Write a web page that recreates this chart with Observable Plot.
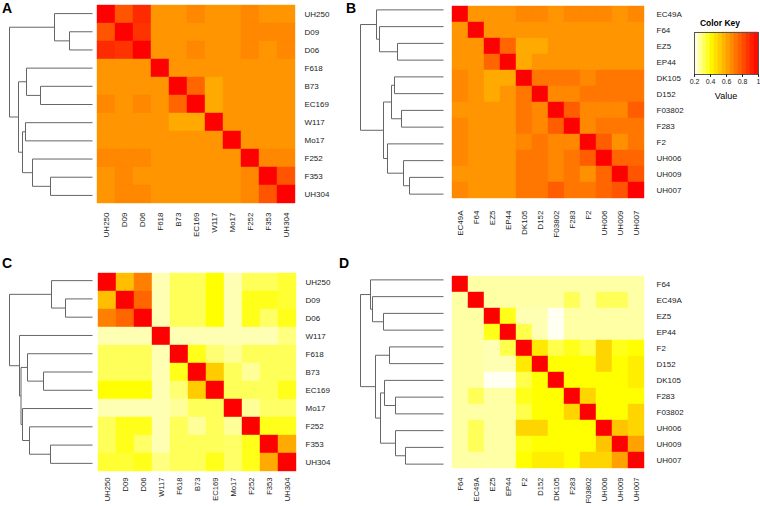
<!DOCTYPE html>
<html><head><meta charset="utf-8">
<script src="https://cdn.jsdelivr.net/npm/d3@7"></script>
<script src="https://cdn.jsdelivr.net/npm/@observablehq/plot@0.6"></script>
<style>
body{margin:0;background:#fff;}
#fig{position:relative;width:760px;height:506px;overflow:hidden;font-family:"Liberation Sans",Arial,sans-serif;background:#fff;}
.p{position:absolute;}
.lab{position:absolute;font-weight:bold;font-size:14px;line-height:1;color:#000;}
</style></head><body><div id="fig"></div>
<script>
// ---------- data ----------
const namesA = ["UH250","D09","D06","F618","B73","EC169","W117","Mo17","F252","F353","UH304"];
const upperA = [
  [0.80,0.90,0.65,0.65,0.68,0.65,0.65,0.68,0.65,0.65],
  [0.88,0.65,0.65,0.65,0.65,0.65,0.68,0.68,0.68],
  [0.65,0.65,0.68,0.65,0.65,0.68,0.65,0.68],
  [0.65,0.65,0.65,0.65,0.65,0.65,0.65],
  [0.76,0.60,0.65,0.65,0.65,0.65],
  [0.60,0.65,0.65,0.65,0.65],
  [0.65,0.65,0.65,0.65],
  [0.65,0.65,0.65],
  [0.68,0.68],
  [0.80],
  []
];
const treeA = [83, [38, "UH250", [23, "D09", "D06"]], [74, [66, "F618", [52, "B73", "EC169"]], [70, [67, "W117", "Mo17"], [60, "F252", [42, "F353", "UH304"]]]]];

const namesB = ["EC49A","F64","EZ5","EP44","DK105","D152","F03802","F283","F2","UH006","UH009","UH007"];
const upperB = [
  [0.65,0.65,0.65,0.68,0.68,0.65,0.68,0.68,0.68,0.65,0.68],
  [0.65,0.65,0.65,0.65,0.65,0.65,0.65,0.65,0.65,0.65],
  [0.76,0.60,0.60,0.65,0.65,0.65,0.65,0.65,0.65],
  [0.60,0.65,0.65,0.65,0.65,0.65,0.65,0.65],
  [0.72,0.72,0.72,0.68,0.72,0.72,0.72],
  [0.68,0.68,0.72,0.72,0.72,0.72],
  [0.78,0.68,0.68,0.68,0.78],
  [0.68,0.72,0.72,0.72],
  [0.78,0.66,0.72],
  [0.76,0.76],
  [0.80],
  []
];
const treeB = [83, [67, "EC49A", [64, "F64", [46, "EZ5", "EP44"]]], [60, [52, [49, "DK105", "D152"], [42, "F03802", "F283"]], [56, "F2", [40, "UH006", [34, "UH009", "UH007"]]]]];

const namesC = ["UH250","D09","D06","W117","F618","B73","EC169","Mo17","F252","F353","UH304"];
const upperC = [
  [0.55,0.70,0.26,0.33,0.33,0.40,0.26,0.33,0.33,0.36],
  [0.76,0.26,0.33,0.33,0.40,0.26,0.38,0.38,0.36],
  [0.26,0.33,0.33,0.40,0.26,0.38,0.32,0.38],
  [0.26,0.26,0.26,0.26,0.26,0.26,0.30],
  [0.38,0.31,0.28,0.33,0.33,0.33],
  [0.52,0.33,0.28,0.33,0.33],
  [0.33,0.33,0.33,0.38],
  [0.28,0.32,0.32],
  [0.38,0.38],
  [0.60],
  []
];
const treeC = [83, [41, "UH250", [27, "D09", "D06"]], [73, "W117", [71.5, [65, "F618", [49, "B73", "EC169"]], [70, "Mo17", [63, "F252", [42, "F353", "UH304"]]]]]];

const namesD = ["F64","EC49A","EZ5","EP44","F2","D152","DK105","F283","F03802","UH006","UH009","UH007"];
const upperD = [
  [0.27,0.27,0.27,0.27,0.27,0.27,0.27,0.27,0.27,0.27,0.27],
  [0.27,0.27,0.27,0.27,0.27,0.33,0.27,0.33,0.33,0.27],
  [0.38,0.26,0.26,0.21,0.27,0.27,0.27,0.27,0.27],
  [0.34,0.26,0.21,0.27,0.27,0.27,0.27,0.27],
  [0.45,0.34,0.38,0.34,0.50,0.38,0.40],
  [0.40,0.40,0.40,0.50,0.40,0.44],
  [0.40,0.40,0.40,0.40,0.44],
  [0.50,0.40,0.40,0.40],
  [0.40,0.40,0.50],
  [0.54,0.50],
  [0.62],
  []
];
const treeD = [83, [73, "F64", [71, "EC49A", [60, "EZ5", "EP44"]]], [68, [54, "F2", "D152"], [63, [59, "DK105", [48, "F283", "F03802"]], [48, "UH006", [38, "UH009", "UH007"]]]]];

const keyStops = [0.2,0.25,0.3,0.35,0.4,0.45,0.5,0.55,0.6,0.65,0.7,0.75,0.8,0.85,0.9,0.95,1.0];
const keyTicks = [0.2,0.4,0.6,0.8,1];

// ---------- helpers ----------
function heat(t){ // reversed heat.colors
  const u = 1 - Math.max(0, Math.min(1, t));
  if (u < 0.75) return `rgb(255,${Math.round(255*u/0.75)},0)`;
  const s = Math.max(0, 1 - (u - 0.75)/0.25);
  return `rgb(255,255,${Math.round(255*(1-s))})`;
}
const colorOpts = {type:"linear", domain:[0.2,1], interpolate: heat};

function cells(names, upper){
  const out=[]; const n=names.length;
  for(let i=0;i<n;i++) for(let j=0;j<n;j++){
    let v;
    if(i===j) v=1; else if(j>i) v=upper[i][j-i-1]; else v=upper[j][i-j-1];
    out.push({row:names[i], col:names[j], value:v});
  }
  return out;
}
function dendro(tree, names){
  const segs=[];
  function walk(node){
    if(typeof node==="string") return {h:0, y:names.indexOf(node)};
    const [h,a,b]=node; const A=walk(a), B=walk(b);
    segs.push({x1:A.h,y1:A.y,x2:h,y2:A.y});
    segs.push({x1:B.h,y1:B.y,x2:h,y2:B.y});
    segs.push({x1:h,y1:A.y,x2:h,y2:B.y});
    return {h, y:(A.y+B.y)/2};
  }
  walk(tree); return segs;
}

const fig = document.getElementById("fig");
function place(el, left, top){
  const d=document.createElement("div"); d.className="p"; d.style.left=left+"px"; d.style.top=top+"px";
  d.appendChild(el); fig.appendChild(d);
}

const panels = [
  {names:namesA, upper:upperA, tree:treeA, hx:96, divTop:0, top:4, grid:200, root:9, leaf:92, mr:60, tp:8},
  {names:namesB, upper:upperB, tree:treeB, hx:447, divTop:0, top:1, grid:201, root:360, leaf:443, mr:45, tp:8},
  {names:namesC, upper:upperC, tree:treeC, hx:96, divTop:250, top:271, grid:201, root:9, leaf:92, mr:60, tp:5},
  {names:namesD, upper:upperD, tree:treeD, hx:447, divTop:250, top:271, grid:201, root:360, leaf:443, mr:45, tp:5}
];

for(const p of panels){
  const n=p.names.length;
  const mt=p.top-p.divTop, mb=45;
  const H=mt+p.grid+mb;
  const heatPlot = Plot.plot({
    width:p.grid+p.mr, height:H,
    marginLeft:0, marginRight:p.mr, marginTop:mt, marginBottom:mb,
    style:{background:"transparent", fontFamily:"'Liberation Sans',Arial,sans-serif", color:"#222"},
    x:{domain:p.names, padding:0}, y:{domain:p.names, padding:0},
    color:colorOpts,
    marks:[
      Plot.cell(cells(p.names,p.upper), {x:"col", y:"row", fill:"value", inset:0, stroke:"value", strokeWidth:0.4}),
      Plot.axisY({anchor:"right", tickSize:0, tickPadding:8, label:null, fontSize:8}),
      Plot.axisX({anchor:"bottom", tickSize:0, tickPadding:p.tp, tickRotate:-90, label:null, fontSize:p.tp===8?8:7.6})
    ]
  });
  place(heatPlot, p.hx, p.divTop);

  const dw=p.leaf-p.root;
  const dPlot = Plot.plot({
    width:dw+10, height:H, marginLeft:5, marginRight:5, marginTop:mt, marginBottom:mb,
    style:{background:"transparent"},
    x:{domain:[83,0], axis:null}, y:{domain:[-0.5,n-0.5], reverse:true, axis:null},
    marks:[ Plot.link(dendro(p.tree,p.names), {x1:"x1",y1:"y1",x2:"x2",y2:"y2", stroke:"#666", strokeWidth:1}) ]
  });
  place(dPlot, p.root-5, p.divTop);
}

// color key
const keyBins = keyStops.slice(0,-1).map((s,i)=>({x1:s, x2:keyStops[i+1], v:(s+keyStops[i+1])/2}));
const keyPlot = Plot.plot({
  width:72, height:68, marginLeft:6, marginRight:2, marginTop:4, marginBottom:22,
  style:{background:"transparent", fontFamily:"'Liberation Sans',Arial,sans-serif", color:"#222"},
  x:{domain:[0.2,1]}, y:{domain:[0,1], axis:null},
  color:colorOpts,
  marks:[
    Plot.rect(keyBins, {x1:"x1", x2:"x2", y1:0, y2:1, fill:"v", stroke:"v", strokeWidth:0.4}),
    Plot.frame({stroke:"#555"}),
    Plot.axisX({ticks:keyTicks, tickSize:3, tickPadding:2, label:null, fontSize:7, tickFormat:d=>String(d)})
  ]
});
place(keyPlot, 688, 28);

function label(txt, left, top, css){
  const d=document.createElement("div"); d.className="lab"; d.textContent=txt;
  d.style.left=left+"px"; d.style.top=top+"px"; if(css) Object.assign(d.style, css); fig.appendChild(d);
}
label("A", 2, 1); label("B", 346, 1); label("C", 2, 256); label("D", 339, 256);
label("Color Key", 680, 19, {fontSize:"8.5px", width:"80px", textAlign:"center"});
label("Value", 686, 92, {fontSize:"9px", fontWeight:"normal", width:"80px", textAlign:"center"});
</script></body></html>
